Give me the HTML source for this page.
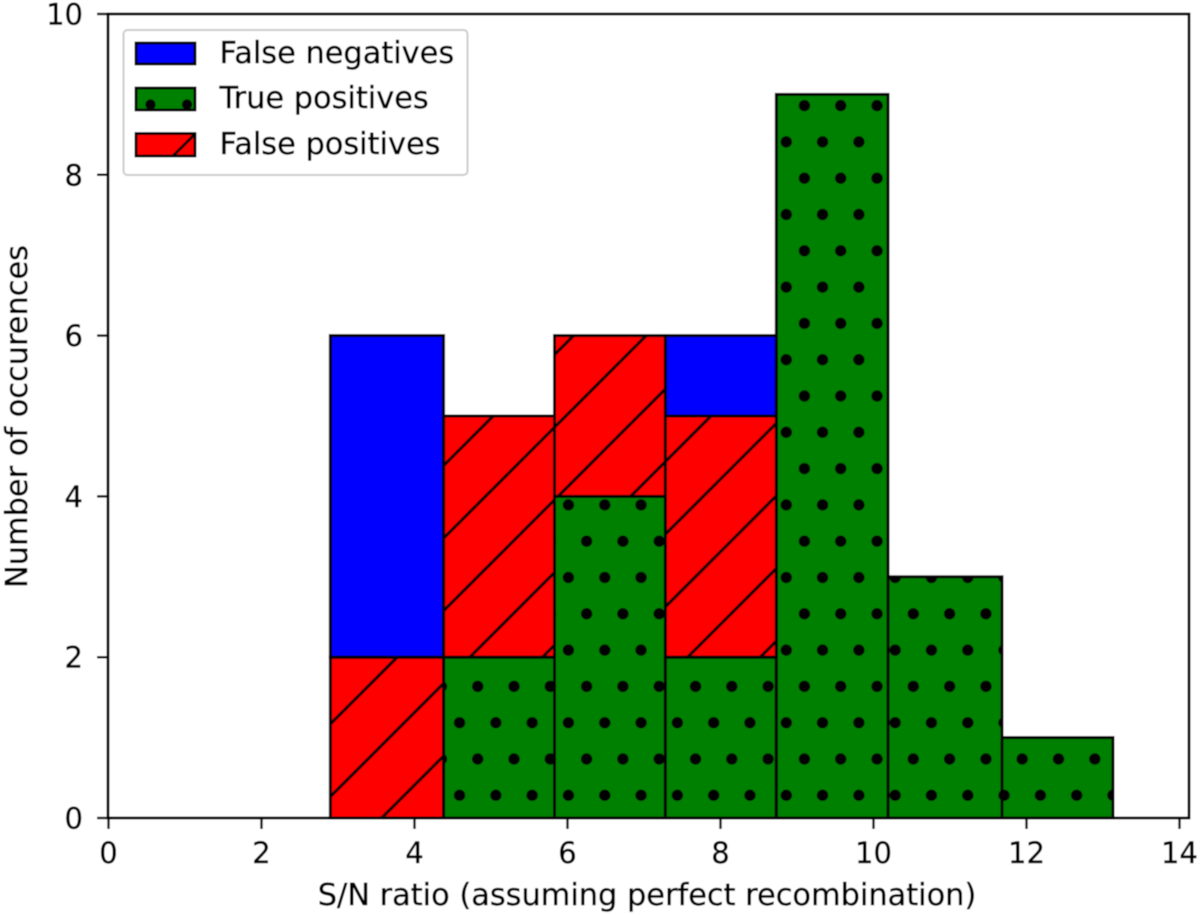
<!DOCTYPE html>
<html>
<head>
<meta charset="utf-8">
<title>S/N ratio histogram</title>
<style>
html,body{margin:0;padding:0;background:#fff;}
svg{display:block;}
text{font-family:"DejaVu Sans","Liberation Sans",sans-serif;fill:#000;stroke:#000;stroke-width:0.45px;}
</style>
</head>
<body>
<svg id="chart" xmlns="http://www.w3.org/2000/svg" width="1200" height="915" viewBox="0 0 1200 915">
  <defs>
    <filter id="soft" x="-2%" y="-2%" width="104%" height="104%"><feGaussianBlur stdDeviation="0.5"/></filter>
    <pattern id="dots" patternUnits="userSpaceOnUse" x="468.625" y="740.85" width="36.3" height="72.6">
      <circle cx="9.075" cy="18.15" r="5.7" fill="#000"/>
      <circle cx="27.225" cy="54.45" r="5.7" fill="#000"/>
    </pattern>
    <pattern id="hatch" patternUnits="userSpaceOnUse" x="0" y="0" width="72.6" height="72.6">
      <path d="M-6 44L44 -6M32 78.6L78.6 32" stroke="#000" stroke-width="3" fill="none"/>
    </pattern>
    <clipPath id="legend-patch-clip-2"><rect x="136" y="88" width="59" height="22"/></clipPath>
    <clipPath id="legend-patch-clip-3"><rect x="136" y="133" width="59" height="23"/></clipPath>
  </defs>
  <g id="root" filter="url(#soft)">
    <rect x="0" y="0" width="1200" height="915" fill="#fff"/>
    <g id="bars"></g>
    <g id="axes"></g>
    <text x="647" y="905" text-anchor="middle" font-size="30.4">S/N ratio (assuming perfect recombination)</text>
    <text transform="translate(27,416.5) rotate(-90)" text-anchor="middle" font-size="30.4">Number of occurences</text>
    <g>
      <rect x="123.5" y="30" width="344" height="145" rx="4" fill="#fff" fill-opacity="0.9" stroke="#ccc" stroke-width="2"/>
      <g>
        <rect x="136" y="43" width="59" height="21" fill="#0000ff" stroke="#000" stroke-width="2.8"/>
        <text x="219.5" y="63" font-size="30.4">False negatives</text>
      </g>
      <g>
        <rect x="136" y="88" width="59" height="22" fill="#008000" stroke="#000" stroke-width="2.8"/>
        <circle cx="150.5" cy="104.5" r="5.2" fill="#000" clip-path="url(#legend-patch-clip-2)"/>
        <circle cx="187" cy="104.5" r="5.2" fill="#000" clip-path="url(#legend-patch-clip-2)"/>
        <text x="219.5" y="108" font-size="30.4">True positives</text>
      </g>
      <g>
        <rect x="136" y="133.5" width="59" height="22.5" fill="#ff0000" stroke="#000" stroke-width="2.8"/>
        <line x1="173" y1="156" x2="195" y2="134" stroke="#000" stroke-width="2.8" clip-path="url(#legend-patch-clip-3)"/>
        <text x="219.5" y="154" font-size="30.4">False positives</text>
      </g>
    </g>
  </g>
</svg>
<script>
const binEdges = [2.9, 4.38, 5.83, 7.28, 8.73, 10.19, 11.68, 13.13];
const truePositives = [0, 2, 4, 2, 9, 3, 1];
const falsePositives = [2, 3, 2, 3, 0, 0, 0];
const falseNegatives = [4, 0, 0, 1, 0, 0, 0];
const xTickValues = [0, 2, 4, 6, 8, 10, 12, 14];
const yTickValues = [0, 2, 4, 6, 8, 10];

const NS = 'http://www.w3.org/2000/svg';
const plot = { left: 108, right: 1189, top: 14, bottom: 818 };
function xScale(v) { return 108.5 + 76.5 * v; }
function yScale(v) { return 818 - 80.4 * v; }

const barsGroup = document.getElementById('bars');
const axesGroup = document.getElementById('axes');

function drawSeries(name, values, baselines, color, overlay) {
  values.forEach(function (value, i) {
    if (value <= 0) return;
    const x0 = xScale(binEdges[i]);
    const x1 = xScale(binEdges[i + 1]);
    const y0 = yScale(baselines[i]);
    const y1 = yScale(baselines[i] + value);
    const base = document.createElementNS(NS, 'rect');
    
    
    base.setAttribute('x', x0);
    base.setAttribute('y', y1);
    base.setAttribute('width', x1 - x0);
    base.setAttribute('height', y0 - y1);
    base.setAttribute('fill', color);
    barsGroup.appendChild(base);
    const edge = document.createElementNS(NS, 'rect');
    
    
    edge.setAttribute('x', x0);
    edge.setAttribute('y', y1);
    edge.setAttribute('width', x1 - x0);
    edge.setAttribute('height', y0 - y1);
    edge.setAttribute('fill', overlay || 'none');
    edge.setAttribute('stroke', '#000');
    edge.setAttribute('stroke-width', '3');
    barsGroup.appendChild(edge);
  });
}

const fpBase = truePositives.slice();
const fnBase = truePositives.map(function (v, i) { return v + falsePositives[i]; });
drawSeries('true-positive', truePositives, truePositives.map(function () { return 0; }), '#008000', 'url(#dots)');
drawSeries('false-positive', falsePositives, fpBase, '#ff0000', 'url(#hatch)');
drawSeries('false-negative', falseNegatives, fnBase, '#0000ff', null);

const frame = document.createElementNS(NS, 'rect');


frame.setAttribute('x', plot.left);
frame.setAttribute('y', plot.top);
frame.setAttribute('width', plot.right - plot.left);
frame.setAttribute('height', plot.bottom - plot.top);
frame.setAttribute('fill', 'none');
frame.setAttribute('stroke', '#000');
frame.setAttribute('stroke-width', '2.8');
axesGroup.appendChild(frame);

xTickValues.forEach(function (v) {
  const x = xScale(v);
  const tick = document.createElementNS(NS, 'line');
  
  
  tick.setAttribute('x1', x);
  tick.setAttribute('x2', x);
  tick.setAttribute('y1', plot.bottom);
  tick.setAttribute('y2', plot.bottom + 11);
  tick.setAttribute('stroke', '#000');
  tick.setAttribute('stroke-width', '2.4');
  axesGroup.appendChild(tick);
  const label = document.createElementNS(NS, 'text');
  
  
  label.setAttribute('x', x);
  label.setAttribute('y', 863);
  label.setAttribute('text-anchor', 'middle');
  label.setAttribute('font-size', '29');
  label.textContent = String(v);
  axesGroup.appendChild(label);
});

yTickValues.forEach(function (v) {
  const y = yScale(v);
  const tick = document.createElementNS(NS, 'line');
  
  
  tick.setAttribute('x1', plot.left - 11);
  tick.setAttribute('x2', plot.left);
  tick.setAttribute('y1', y);
  tick.setAttribute('y2', y);
  tick.setAttribute('stroke', '#000');
  tick.setAttribute('stroke-width', '2.4');
  axesGroup.appendChild(tick);
  const label = document.createElementNS(NS, 'text');
  
  
  label.setAttribute('x', 83);
  label.setAttribute('y', y + 10.5);
  label.setAttribute('text-anchor', 'end');
  label.setAttribute('font-size', '29');
  label.textContent = String(v);
  axesGroup.appendChild(label);
});
</script>
</body>
</html>
